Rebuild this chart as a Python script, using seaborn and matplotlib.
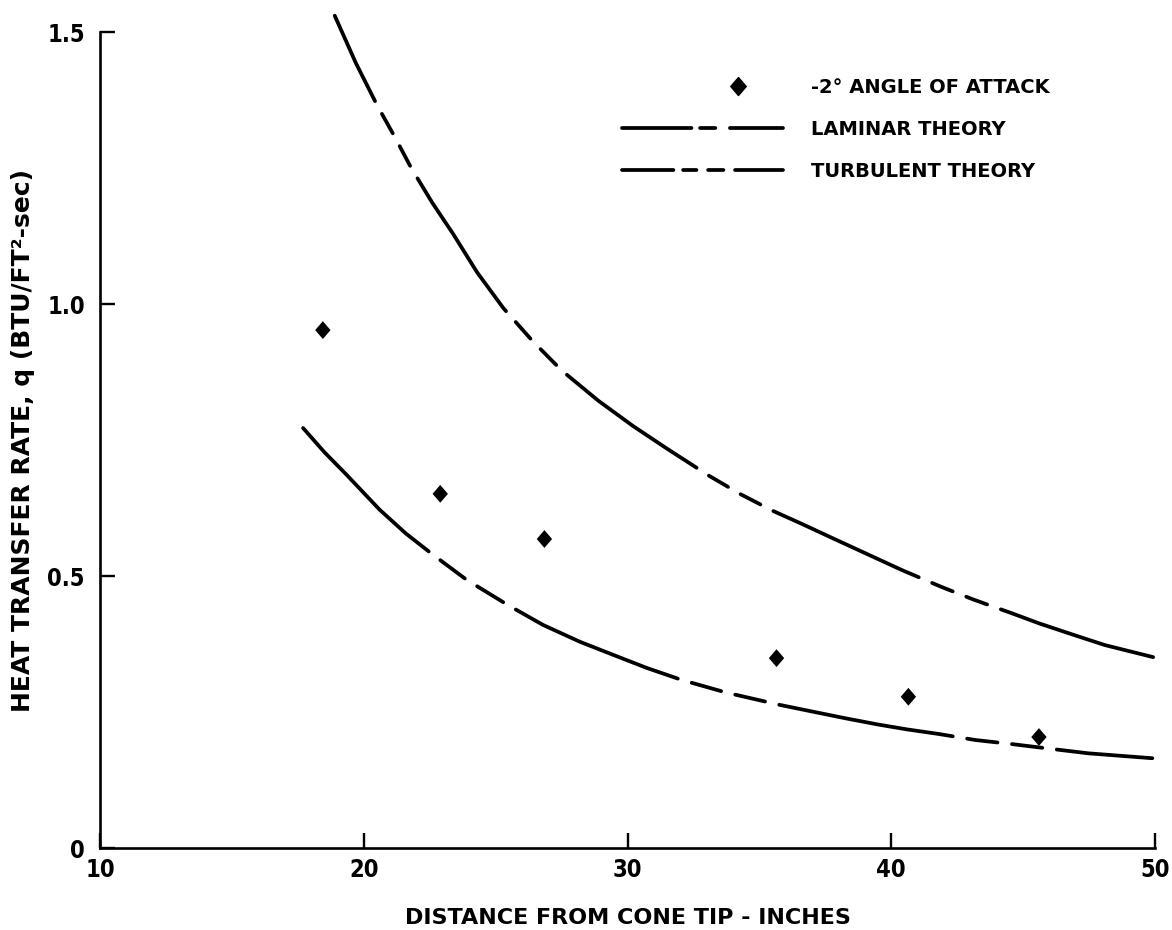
import matplotlib
matplotlib.use("Agg")
import matplotlib.pyplot as plt
import numpy as np
import pandas as pd
import seaborn as sns
from matplotlib.lines import Line2D
from matplotlib.legend_handler import HandlerLine2D

# Measured heat transfer at -2 deg angle of attack
dist_meas = [18.45, 22.9, 26.85, 35.65, 40.65, 45.6]
q_meas = [0.952, 0.651, 0.568, 0.349, 0.278, 0.204]

# Laminar theory curve
dist_lam = [18.9, 19.7, 20.5, 21.2, 21.8, 22.6, 23.4, 24.3, 25.3, 26.4, 27.5,
            28.9, 30.2, 31.5, 33.1, 34.3, 35.5, 36.6, 37.8, 39.1, 40.4, 41.9,
            43.1, 44.6, 45.6, 46.9, 48.1, 50.0]
q_lam = [1.530, 1.443, 1.366, 1.305, 1.250, 1.186, 1.128, 1.058, 0.992, 0.932,
         0.878, 0.822, 0.776, 0.734, 0.684, 0.650, 0.620, 0.596, 0.569, 0.540,
         0.511, 0.480, 0.457, 0.431, 0.413, 0.392, 0.373, 0.350]

# Turbulent theory curve
dist_turb = [17.7, 18.5, 19.35, 20.6, 21.6, 22.6, 23.9, 25.45, 26.8, 28.2,
             29.46, 30.73, 32.05, 33.76, 35.78, 37.04, 38.31, 39.5, 40.6, 41.8,
             43.19, 44.58, 45.59, 47.48, 49.9]
q_turb = [0.772, 0.728, 0.686, 0.622, 0.578, 0.540, 0.493, 0.447, 0.410, 0.379,
          0.355, 0.331, 0.309, 0.2855, 0.263, 0.2505, 0.238, 0.227, 0.218,
          0.2096, 0.1985, 0.191, 0.185, 0.174, 0.165]

x_ticks = [10, 20, 30, 40, 50]
x_tick_labels = ["10", "20", "30", "40", "50"]
y_ticks = [0, 0.5, 1.0, 1.5]
y_tick_labels = ["0", "0.5", "1.0", "1.5"]

legend_labels = ["-2\u00b0 ANGLE OF ATTACK", "LAMINAR THEORY", "TURBULENT THEORY"]

sns.set_style("ticks")
plt.rcParams["font.family"] = ["DejaVu Sans"]
plt.rcParams["font.weight"] = "bold"
plt.rcParams["lines.scale_dashes"] = False
for key in ("text.color", "axes.labelcolor", "xtick.color", "ytick.color",
            "axes.edgecolor"):
    plt.rcParams[key] = "black"

fig = plt.figure(figsize=(11.72, 9.3), dpi=100)
ax = fig.add_axes([100 / 1172, 82 / 930, 1055 / 1172, 816 / 930])

lam_df = pd.DataFrame({"dist": dist_lam, "q": q_lam})
turb_df = pd.DataFrame({"dist": dist_turb, "q": q_turb})
meas_df = pd.DataFrame({"dist": dist_meas, "q": q_meas})

LW = 2.7
sns.lineplot(data=lam_df, x="dist", y="q", ax=ax, color="black", lw=LW,
             sort=False, estimator=None)
sns.lineplot(data=turb_df, x="dist", y="q", ax=ax, color="black", lw=LW,
             sort=False, estimator=None)
lam_line, turb_line = ax.lines[0], ax.lines[1]
for ln in (lam_line, turb_line):
    ln.set_clip_on(False)
    ln.set_dash_capstyle("round")
    ln.set_solid_capstyle("round")
    ln.set_solid_joinstyle("round")
    ln.set_dash_joinstyle("round")
# long dash followed by two short dashes
lam_line.set_linestyle((47, [115, 10.5, 16, 10.5, 16, 10.5]))
turb_line.set_linestyle((0, [127, 10.5, 22, 10.5, 22, 10.5]))

# slightly tall diamond, as lettered on the original sheet
diamond = [(0, 1), (0.86, 0), (0, -1), (-0.86, 0), (0, 1)]
sns.scatterplot(data=meas_df, x="dist", y="q", ax=ax, marker=diamond, s=165,
                color="black", edgecolor="none", linewidth=0, zorder=3)

ax.set_xlim(10, 50)
ax.set_ylim(0, 1.5)
ax.set_xticks(x_ticks)
ax.set_xticklabels(x_tick_labels)
ax.set_yticks(y_ticks)
ax.set_yticklabels(y_tick_labels)

for side in ("top", "right"):
    ax.spines[side].set_visible(False)
for side in ("left", "bottom"):
    ax.spines[side].set_linewidth(1.9)
    ax.spines[side].set_color("black")

ax.tick_params(axis="both", direction="in", length=11, width=1.7,
               colors="black")
ax.tick_params(axis="x", pad=7)
ax.tick_params(axis="y", pad=11)
for lab in ax.get_xticklabels() + ax.get_yticklabels():
    lab.set_fontsize(17)
    lab.set_fontstretch("condensed")
    lab.set_fontweight("bold")

ax.set_xlabel("DISTANCE FROM CONE TIP - INCHES", fontsize=16, fontweight="bold")
ax.set_ylabel("HEAT TRANSFER RATE, q (BTU/FT\u00b2-sec)", fontsize=18,
              fontweight="bold")
ax.xaxis.set_label_coords(0.5, -0.074)
ax.yaxis.set_label_coords(-0.062, 0.5)


class OffsetMarkerHandler(HandlerLine2D):
    """Legend handler placing a single marker toward the right of the key."""

    def __init__(self, frac=0.72, **kw):
        super().__init__(numpoints=2, **kw)
        self.frac = frac

    def get_xdata(self, legend, xdescent, ydescent, width, height, fontsize):
        xm = np.array([-xdescent + self.frac * width], float)
        return xm, xm


h_meas = Line2D([], [], marker=diamond, markersize=13, color="black",
                linestyle="none")
h_lam = Line2D([], [], color="black", lw=LW, dash_capstyle="round",
               linestyle=(0, [50, 6.2, 11, 10.5, 200, 1]))
h_turb = Line2D([], [], color="black", lw=LW, dash_capstyle="round",
                linestyle=(0, [37, 7, 9.6, 8.4, 11, 8.4, 200, 1]))

ax.legend(handles=[h_meas, h_lam, h_turb], labels=legend_labels,
          loc="upper left", bbox_to_anchor=(0.4948, 0.944),
          frameon=False, fontsize=14, handlelength=8.3, handletextpad=1.4,
          labelspacing=1.18, borderpad=0, borderaxespad=0, numpoints=1,
          handler_map={h_meas: OffsetMarkerHandler(frac=0.72)})

fig.savefig("out.png", dpi=100, facecolor="white")
